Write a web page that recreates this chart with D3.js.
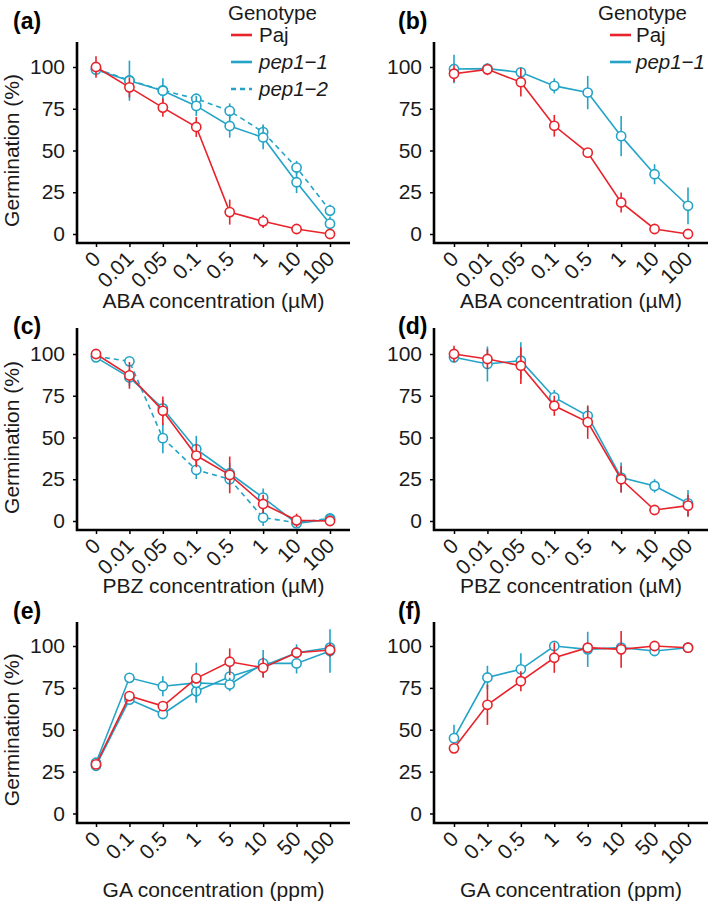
<!DOCTYPE html>
<html>
<head>
<meta charset="utf-8">
<script src="https://cdn.jsdelivr.net/npm/d3@7.9.0/dist/d3.min.js"></script>
<style>
  body { margin: 0; background: #fff; }
  svg { display: block; font-family: Arial, "Liberation Sans", sans-serif; }
</style>
</head>
<body>
<svg id="fig" width="709" height="904"></svg>
<script>
// ---------- Data ----------
const abaDoses = ["0", "0.01", "0.05", "0.1", "0.5", "1", "10", "100"];
const pbzDoses = ["0", "0.01", "0.05", "0.1", "0.5", "1", "10", "100"];
const gaDoses = ["0", "0.1", "0.5", "1", "5", "10", "50", "100"];
const yTicks = [0, 25, 50, 75, 100];

// (a) ABA
const aPaj = [100, 87.8, 75.7, 64.1, 13.1, 7.6, 3, 0];
const aPajErr = [6.5, 6, 5.5, 6, 7.5, 4, 2.5, 0.5];
const aPep11 = [98.4, 91.8, 85.8, 76.7, 64.7, 57.8, 31, 6.2];
const aPep11Err = [3, 12, 7.5, 6, 7, 7, 6.5, 4];
const aPep12 = [99, 92, 86, 81, 73.7, 61, 39.8, 14];
const aPep12Err = [2, 3, 3, 3, 4.5, 4.5, 4, 3.5];

// (b) ABA
const bPaj = [96, 98.6, 90.9, 64.8, 48.7, 18.9, 3, 0];
const bPajErr = [5, 3.5, 8.5, 6.5, 1, 6, 1, 0.5];
const bPep11 = [98.8, 99, 96.8, 88.7, 84.7, 58.6, 35.8, 16.9];
const bPep11Err = [8.5, 2, 3, 4.5, 10, 12, 6, 11];

// (c) PBZ
const cPaj = [100, 87.2, 66, 39.2, 27.6, 10.2, 0.4, 0];
const cPajErr = [1, 8, 8.5, 7, 11, 5.5, 4, 0.5];
const cPep11 = [98, 86, 67.4, 43, 28.6, 14, -1.4, 1];
const cPep11Err = [1, 5, 5, 8, 6, 5.5, 2, 3];
const cPep12 = [98.6, 95.6, 49.6, 30.6, 25, 2, -1, 1.6];
const cPep12Err = [1, 2, 9, 5.5, 3, 5, 1, 3];

// (d) PBZ
const dPaj = [100, 97, 93, 69, 59.2, 25, 6.6, 9.2];
const dPajErr = [5, 6, 11, 6, 10, 8, 1.5, 6.5];
const dPep11 = [98, 94, 96, 74, 63, 26, 21, 10.6];
const dPep11Err = [3, 10.5, 11, 4.5, 5.5, 9, 4, 8];

// (e) GA
const ePaj = [29.3, 70.1, 64.1, 80.7, 90.6, 87, 96, 97.6];
const ePajErr = [2, 2, 2, 3, 8, 6, 3, 4];
const ePep11 = [30.3, 81, 76, 78, 77, 89.6, 89.6, 97];
const ePep11Err = [2, 2, 6, 12, 4, 8, 6, 13];
const ePep12 = [28.5, 68, 59.4, 73, 81.7, 88, 96, 99];
const ePep12Err = [2, 2, 3, 6, 6, 4, 5, 3];

// (f) GA
const fPaj = [38.9, 64.9, 79, 93, 99, 98, 100, 99];
const fPajErr = [2, 12, 6, 9, 1, 11, 1, 3];
const fPep11 = [45, 81.2, 86.1, 100, 98, 99, 97, 99];
const fPep11Err = [8, 7, 9.5, 3, 10.5, 2, 3, 2];

// ---------- Styling ----------
const RED = "#e8232b";
const BLUE = "#23a4c7";
const INK = "#1a1a1a";

const svg = d3.select("#fig");

// left column / right column geometry
const cols = [
  { axisX: 77, right: 350, x0: 96, x1: 330, labelX: 13, yTitle: true },
  { axisX: 434, right: 708, x0: 454, x1: 688, labelX: 398, yTitle: false }
];
const rows = [
  { top: 42, bottom: 243, y0: 234, y100: 67, titleY: 308, labelY: 29 },
  { top: 328, bottom: 530, y0: 521, y100: 354, titleY: 593, labelY: 334 },
  { top: 622, bottom: 823, y0: 813.5, y100: 646, titleY: 897, labelY: 619 }
];

const panels = [
  { tag: "(a)", col: 0, row: 0, doses: abaDoses, xTitle: "ABA concentration (\u00b5M)",
    series: [
      { name: "pep1-2", values: aPep12, err: aPep12Err, color: BLUE, dash: "5,4" },
      { name: "pep1-1", values: aPep11, err: aPep11Err, color: BLUE },
      { name: "Paj", values: aPaj, err: aPajErr, color: RED }
    ],
    legend: { x: 228, lineX: 231, textX: 259, items: ["Paj", "pep1-1", "pep1-2"] } },
  { tag: "(b)", col: 1, row: 0, doses: abaDoses, xTitle: "ABA concentration (\u00b5M)",
    series: [
      { name: "pep1-1", values: bPep11, err: bPep11Err, color: BLUE },
      { name: "Paj", values: bPaj, err: bPajErr, color: RED }
    ],
    legend: { x: 598, lineX: 610, textX: 636, items: ["Paj", "pep1-1"] } },
  { tag: "(c)", col: 0, row: 1, doses: pbzDoses, xTitle: "PBZ concentration (\u00b5M)",
    series: [
      { name: "pep1-2", values: cPep12, err: cPep12Err, color: BLUE, dash: "5,4" },
      { name: "pep1-1", values: cPep11, err: cPep11Err, color: BLUE },
      { name: "Paj", values: cPaj, err: cPajErr, color: RED }
    ] },
  { tag: "(d)", col: 1, row: 1, doses: pbzDoses, xTitle: "PBZ concentration (\u00b5M)",
    series: [
      { name: "pep1-1", values: dPep11, err: dPep11Err, color: BLUE },
      { name: "Paj", values: dPaj, err: dPajErr, color: RED }
    ] },
  { tag: "(e)", col: 0, row: 2, doses: gaDoses, xTitle: "GA concentration (ppm)",
    series: [
      { name: "pep1-2", values: ePep12, err: ePep12Err, color: BLUE },
      { name: "pep1-1", values: ePep11, err: ePep11Err, color: BLUE },
      { name: "Paj", values: ePaj, err: ePajErr, color: RED }
    ] },
  { tag: "(f)", col: 1, row: 2, doses: gaDoses, xTitle: "GA concentration (ppm)",
    series: [
      { name: "pep1-1", values: fPep11, err: fPep11Err, color: BLUE },
      { name: "Paj", values: fPaj, err: fPajErr, color: RED }
    ] }
];

const legendColor = { "Paj": RED, "pep1-1": BLUE, "pep1-2": BLUE };
const legendDash = { "pep1-2": "5,4" };

// ---------- Draw ----------
panels.forEach((p) => {
  const c = cols[p.col];
  const r = rows[p.row];
  const g = svg.append("g");

  const x = d3.scalePoint().domain(p.doses).range([c.x0, c.x1]);
  const y = d3.scaleLinear().domain([0, 100]).range([r.y0, r.y100]);

  // x ticks + rotated labels
  const xAxis = g.append("g")
    .attr("transform", `translate(0,${r.bottom})`)
    .call(d3.axisBottom(x).tickSize(4).tickSizeOuter(0))
    .attr("font-family", null)
    .attr("font-size", null);
  xAxis.select(".domain").remove();
  xAxis.selectAll(".tick line").attr("stroke", "#000").attr("stroke-width", 1.5);
  xAxis.selectAll(".tick text")
    .attr("font-size", 21)
    .attr("fill", INK)
    .attr("text-anchor", "end")
    .attr("y", 0)
    .attr("dy", "0.35em")
    .attr("transform", "translate(0,12) rotate(-45)");

  // y ticks
  const yAxis = g.append("g")
    .attr("transform", `translate(${c.axisX},0)`)
    .call(d3.axisLeft(y).tickValues(yTicks).tickSize(4).tickPadding(8).tickSizeOuter(0))
    .attr("font-family", null)
    .attr("font-size", null);
  yAxis.select(".domain").remove();
  yAxis.selectAll(".tick line").attr("stroke", "#000").attr("stroke-width", 1.5);
  yAxis.selectAll(".tick text")
    .attr("font-size", 21)
    .attr("fill", INK);

  // axis lines
  g.append("path")
    .attr("d", `M${c.axisX},${r.top}V${r.bottom}H${c.right}`)
    .attr("fill", "none")
    .attr("stroke", "#000")
    .attr("stroke-width", 2.6);

  // series: lines, error bars, points
  p.series.forEach((s) => {
    const pts = s.values.map((v, i) => ({ dose: p.doses[i], v, e: s.err[i] }));
    g.append("path")
      .datum(pts)
      .attr("fill", "none")
      .attr("stroke", s.color)
      .attr("stroke-width", 1.6)
      .attr("stroke-dasharray", s.dash || null)
      .attr("d", d3.line().x((d) => x(d.dose)).y((d) => y(d.v)));
    g.append("g").selectAll("line")
      .data(pts)
      .join("line")
      .attr("x1", (d) => x(d.dose))
      .attr("x2", (d) => x(d.dose))
      .attr("y1", (d) => y(d.v - d.e))
      .attr("y2", (d) => y(d.v + d.e))
      .attr("stroke", s.color)
      .attr("stroke-width", 1.6);
    g.append("g").selectAll("circle")
      .data(pts)
      .join("circle")
      .attr("cx", (d) => x(d.dose))
      .attr("cy", (d) => y(d.v))
      .attr("r", 4.6)
      .attr("fill", "#fff")
      .attr("stroke", s.color)
      .attr("stroke-width", 1.6);
  });

  // axis titles
  g.append("text")
    .attr("x", (c.axisX + c.right) / 2)
    .attr("y", r.titleY)
    .attr("text-anchor", "middle")
    .attr("font-size", 21)
    .attr("fill", INK)
    .text(p.xTitle);

  if (c.yTitle) {
    g.append("text")
      .attr("transform", `translate(19,${(r.y0 + r.y100) / 2}) rotate(-90)`)
      .attr("text-anchor", "middle")
      .attr("font-size", 21)
      .attr("fill", INK)
      .text("Germination (%)");
  }

  // panel tag
  g.append("text")
    .attr("x", c.labelX)
    .attr("y", r.labelY)
    .attr("font-size", 23)
    .attr("font-weight", "bold")
    .attr("fill", "#000")
    .text(p.tag);

  // legend
  if (p.legend) {
    const L = p.legend;
    g.append("text")
      .attr("x", L.x)
      .attr("y", 20)
      .attr("font-size", 20.5)
      .attr("fill", INK)
      .text("Genotype");
    L.items.forEach((name, i) => {
      const cy = 35 + i * 27;
      g.append("line")
        .attr("x1", L.lineX).attr("x2", L.lineX + 21)
        .attr("y1", cy).attr("y2", cy)
        .attr("stroke", legendColor[name])
        .attr("stroke-width", 2.6)
        .attr("stroke-dasharray", legendDash[name] || null);
      g.append("text")
        .attr("x", L.textX)
        .attr("y", cy)
        .attr("dy", "0.35em")
        .attr("font-size", 20.5)
        .attr("font-style", name === "Paj" ? null : "italic")
        .attr("fill", INK)
        .text(name === "Paj" ? name : name.replace("-", "\u2212"));
    });
  }
});
</script>
</body>
</html>
